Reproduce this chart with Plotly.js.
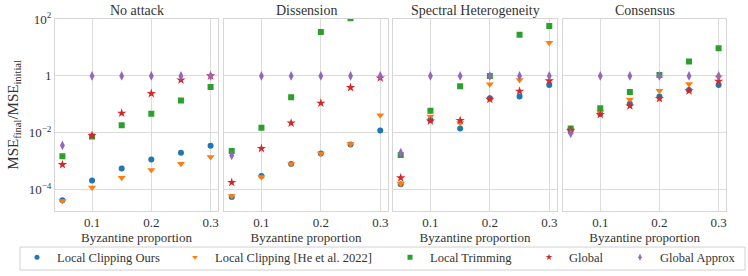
<!DOCTYPE html>
<html>
<head>
<meta charset="utf-8">
<script src="https://cdn.plot.ly/plotly-3.0.1.min.js"></script>
<style>html,body{margin:0;padding:0;background:#fff;}#chart{width:748px;height:276px;}</style>
</head>
<body>
<div id="chart"></div>
<script>
// ---- data ----
const proportions = [0.05, 0.10, 0.15, 0.20, 0.25, 0.30];
const panelTitles = ["No attack", "Dissension", "Spectral Heterogeneity", "Consensus"];
const seriesNames = ["Local Clipping Ours", "Local Clipping [He et al. 2022]", "Local Trimming", "Global", "Global Approx"];

// No attack
const noAttackClipOurs = [4.2e-5, 2.1e-4, 5.5e-4, 1.15e-3, 2.0e-3, 3.5e-3];
const noAttackClipHe   = [4.0e-5, 1.2e-4, 2.6e-4, 4.9e-4, 8.1e-4, 1.4e-3];
const noAttackTrim     = [1.5e-3, 7.4e-3, 1.84e-2, 4.7e-2, 0.135, 0.41];
const noAttackGlobal   = [7.6e-4, 8.0e-3, 4.9e-2, 0.24, 0.72, 1.0];
const noAttackApprox   = [3.6e-3, 1.0, 1.0, 1.0, 1.0, 1.0];
// Dissension
const dissClipOurs = [5.5e-5, 3.0e-4, 8.0e-4, 1.85e-3, 3.9e-3, 1.2e-2];
const dissClipHe   = [6.0e-5, 2.8e-4, 8.0e-4, 1.85e-3, 4.0e-3, 4.1e-2];
const dissTrim     = [2.3e-3, 1.5e-2, 0.178, 35, 107, 500];
const dissGlobal   = [1.8e-4, 2.8e-3, 2.2e-2, 0.11, 0.39, 0.85];
const dissApprox   = [1.6e-3, 1.0, 1.0, 1.0, 1.0, 1.0];
// Spectral Heterogeneity
const specClipOurs = [1.55e-4, 2.8e-2, 1.4e-2, 0.164, 0.19, 0.48];
const specClipHe   = [1.6e-4, 3.7e-2, 2.2e-2, 0.51, 0.72, 14.5];
const specTrim     = [1.66e-3, 5.9e-2, 0.43, 1.0, 28, 57];
const specGlobal   = [2.6e-4, 2.6e-2, 2.7e-2, 0.15, 0.29, 0.67];
const specApprox   = [2.0e-3, 1.0, 1.0, 1.0, 1.0, 1.0];
// Consensus
const consClipOurs = [1.2e-2, 4.7e-2, 0.104, 0.19, 0.32, 0.48];
const consClipHe   = [1.25e-2, 5.4e-2, 0.147, 0.30, 0.52, 0.90];
const consTrim     = [1.4e-2, 7.3e-2, 0.27, 1.08, 3.2, 9.4];
const consGlobal   = [1.2e-2, 4.4e-2, 0.088, 0.16, 0.30, 0.65];
const consApprox   = [9.5e-3, 1.0, 1.0, 1.0, 1.0, 1.0];

const yTickVals = [1e-4, 1e-2, 1, 100];
const yTickText = ["10<sup>−4</sup>", "10<sup>−2</sup>", "1", "10<sup>2</sup>"];
const xTickVals = [0.1, 0.2, 0.3];
const xTickText = ["0.1", "0.2", "0.3"];

const panelData = [
  [noAttackClipOurs, noAttackClipHe, noAttackTrim, noAttackGlobal, noAttackApprox],
  [dissClipOurs, dissClipHe, dissTrim, dissGlobal, dissApprox],
  [specClipOurs, specClipHe, specTrim, specGlobal, specApprox],
  [consClipOurs, consClipHe, consTrim, consGlobal, consApprox]
];

// ---- styles ----
const colors = ["#1f77b4", "#ff7f0e", "#2ca02c", "#d62728", "#9467bd"];
const symbols = ["circle", "triangle-down", "square", "star", "diamond-tall"];
const sizes = [6, 7, 6, 7, 7];
const FONT = "'Liberation Serif', 'Times New Roman', serif";
const W = 748, H = 276;
const xDomains = [[55, 218], [224.3, 387.7], [393.3, 556.7], [563.3, 726]];
const yDom = [(H - 210.7) / H, (H - 19) / H];

const traces = [];
panelData.forEach((series, p) => {
  const ax = p === 0 ? "" : String(p + 1);
  series.forEach((vals, s) => {
    traces.push({
      type: "scatter", mode: "markers",
      x: proportions, y: vals,
      xaxis: "x" + ax, yaxis: "y" + ax,
      name: seriesNames[s], showlegend: false,
      marker: {color: colors[s], symbol: symbols[s], size: sizes[s], line: {width: 0}},
      hoverinfo: "x+y+name"
    });
  });
});
// legend-only entries, one legend each
const legendX = [59, 217, 432, 571, 662];
seriesNames.forEach((nm, s) => {
  traces.push({
    type: "scatter", mode: "markers", x: [null], y: [null],
    name: nm, showlegend: true, legend: s === 0 ? "legend" : "legend" + (s + 1),
    marker: {color: colors[s], symbol: symbols[s], size: 5}
  });
});

const layout = {
  width: W, height: H,
  margin: {l: 0, r: 0, t: 0, b: 0},
  paper_bgcolor: "#fff", plot_bgcolor: "#fff",
  font: {family: FONT, size: 12, color: "#333"},
  annotations: [],
  shapes: [{
    type: "rect", xref: "paper", yref: "paper",
    x0: 20 / W, x1: 745 / W, y0: (H - 270) / H, y1: (H - 247) / H,
    line: {color: "#d0d0d0", width: 1}, fillcolor: "rgba(0,0,0,0)"
  }]
};

xDomains.forEach((d, p) => {
  const ax = p === 0 ? "" : String(p + 1);
  layout["xaxis" + ax] = {
    domain: [d[0] / W, d[1] / W],
    anchor: "y" + ax,
    range: [0.0375, 0.3125],
    tickvals: xTickVals, ticktext: xTickText,
    showgrid: true, gridcolor: "#dcdcdc", gridwidth: 1,
    zeroline: false, showline: true, mirror: true, linecolor: "#d6d6d6", linewidth: 1,
    ticks: "", tickfont: {family: FONT, size: 13, color: "#333"},
    title: {text: "Byzantine proportion", font: {family: FONT, size: 13, color: "#333"}, standoff: 2}
  };
  layout["yaxis" + ax] = {
    domain: yDom,
    anchor: "x" + ax,
    type: "log",
    range: [-4.74, 2],
    tickvals: yTickVals, ticktext: yTickText,
    showticklabels: p === 0,
    showgrid: true, gridcolor: "#dcdcdc", gridwidth: 1,
    zeroline: false, showline: true, mirror: true, linecolor: "#d6d6d6", linewidth: 1,
    ticks: "", tickfont: {family: FONT, size: 13, color: "#333"},
    title: p === 0 ? {text: "MSE<sub>final</sub>/MSE<sub>initial</sub>", font: {family: FONT, size: 15, color: "#333"}, standoff: 6} : {text: ""}
  };
  layout.annotations.push({
    text: panelTitles[p], xref: "paper", yref: "paper",
    x: (d[0] + d[1]) / 2 / W, y: (H - 10) / H,
    xanchor: "center", yanchor: "middle", showarrow: false,
    font: {family: FONT, size: 14, color: "#333"}
  });
});

seriesNames.forEach((nm, s) => {
  const key = s === 0 ? "legend" : "legend" + (s + 1);
  layout[key] = {
    orientation: "h", x: (legendX[s] - 42) / W, xanchor: "left",
    y: (H - 257.5) / H, yanchor: "middle",
    bgcolor: "rgba(0,0,0,0)", borderwidth: 0,
    font: {family: FONT, size: 12.5, color: "#333"}
  };
});

Plotly.newPlot("chart", traces, layout, {displayModeBar: false, staticPlot: true});
</script>
</body>
</html>
